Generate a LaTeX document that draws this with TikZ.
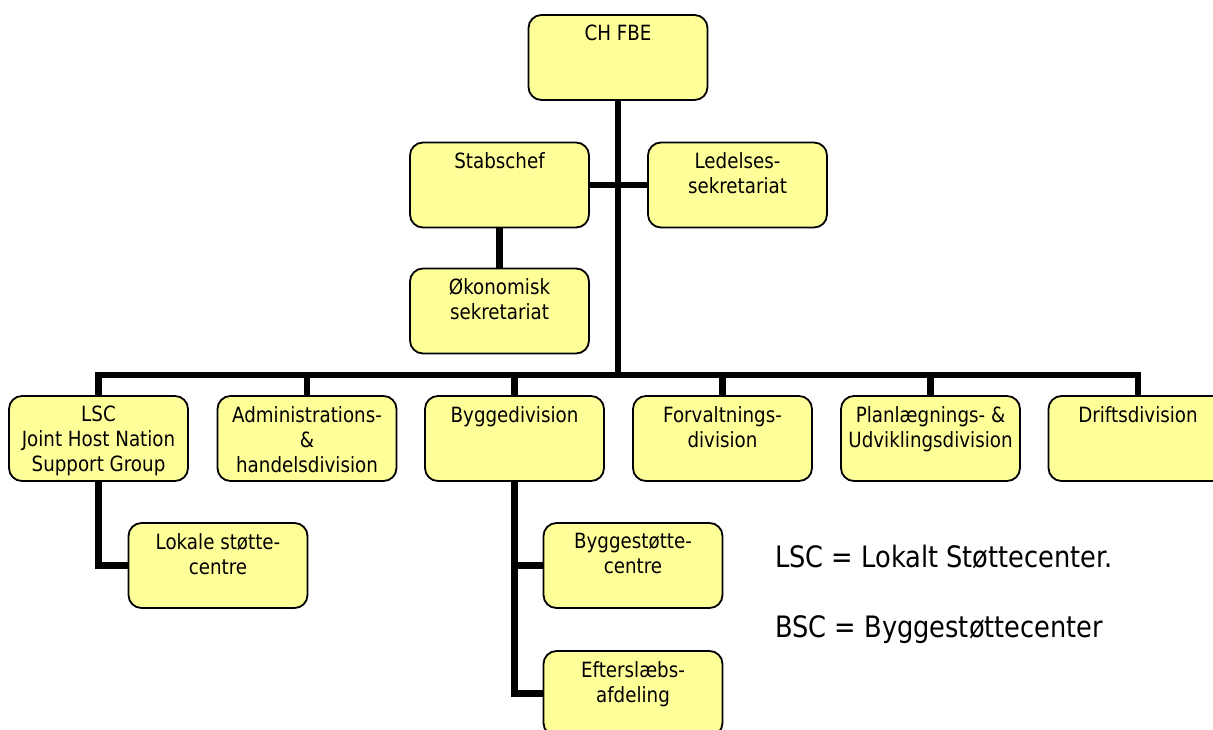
\documentclass[tikz,border=0pt]{standalone}
\usepackage{fontspec}
\setmainfont{DejaVu Sans}[FakeStretch=0.87]
\definecolor{unitfill}{HTML}{FFFF99}
% one organisational unit: name, centre x, centre y, label
\newcommand\orgunit[4]{%
  \node[unit] (#1) at (#2,#3) {};
  \node[unittext] (#1-label) at ([yshift=-11pt]#1.north) {#4};}
\begin{document}
\begin{tikzpicture}[x=1pt,y=-1pt,
  unit/.style={draw=black, line width=1.8pt, fill=unitfill, rounded corners=13pt,
    minimum width=179pt, minimum height=85pt, inner sep=0pt},
  unittext/.style={anchor=north, align=center, inner sep=0pt,
    font=\fontsize{21}{25}\selectfont},
  link/.style={draw=black, line width=6.5pt},
  legend/.style={anchor=base west, inner sep=0pt, font=\fontsize{29.5}{34}\selectfont}]
\useasboundingbox (0,0) rectangle (1213,729);
\clip (0,0) rectangle (1213,729);

% management level
\orgunit{ch}{618}{57.5}{CH FBE}
\orgunit{stab}{499.5}{185}{Stabschef}
\orgunit{led}{737.5}{185}{Ledelses-\\sekretariat}
\orgunit{oek}{499.5}{311}{Økonomisk\\sekretariat}

% divisions
\orgunit{lsc}{98.5}{438.5}{LSC\\Joint Host Nation\\Support Group}
\orgunit{admin}{307}{438.5}{Administrations-\\\&\\handelsdivision}
\orgunit{bygge}{514.5}{438.5}{Byggedivision}
\orgunit{forv}{722.5}{438.5}{Forvaltnings-\\division}
\orgunit{plan}{930.5}{438.5}{Planlægnings- \&\\Udviklingsdivision}
\orgunit{drift}{1138}{438.5}{Driftsdivision}

% sub-units
\orgunit{lokale}{218}{565.5}{Lokale støtte-\\centre}
\orgunit{bst}{633}{565.5}{Byggestøtte-\\centre}
\orgunit{efter}{633}{693.5}{Efterslæbs-\\afdeling}

% connectors
\coordinate (bus) at (618,375);
\draw[link] (ch.south) -- (bus);
\draw[link] (stab.east) -- (led.west);
\draw[link] (stab.south) -- (oek.north);
\draw[link] (lsc.north) |- (bus) -| (drift.north);
\draw[link] (admin.north |- bus) -- (admin.north);
\draw[link] (bygge.north |- bus) -- (bygge.north);
\draw[link] (forv.north |- bus) -- (forv.north);
\draw[link] (plan.north |- bus) -- (plan.north);
\draw[link] (lsc.south) |- (lokale.west);
\draw[link] (bygge.south) |- (efter.west);
\draw[link] (bygge.south |- bst.west) -- (bst.west);

% abbreviations
\node[legend] (lsc-def) at (775,567) {LSC = Lokalt Støttecenter.};
\node[legend] (bsc-def) at (775,637) {BSC = Byggestøttecenter};
\end{tikzpicture}
\end{document}
